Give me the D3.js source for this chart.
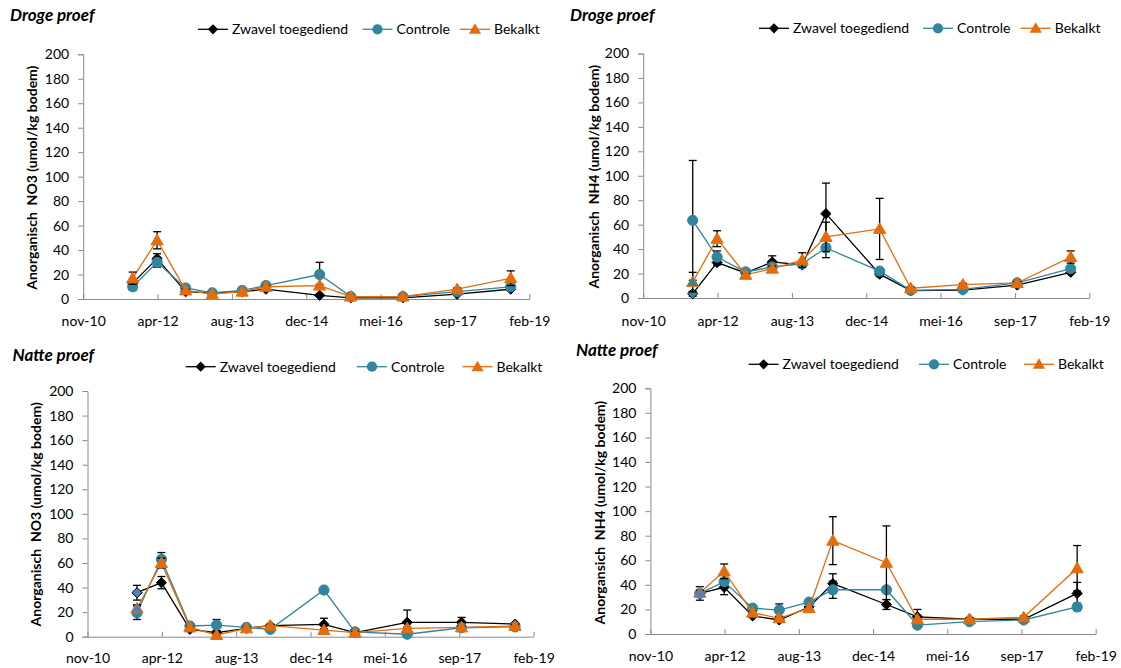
<!DOCTYPE html>
<html><head><meta charset="utf-8">
<script src="https://cdn.jsdelivr.net/npm/d3@7"></script>
<style>
html,body{margin:0;padding:0;background:#fff;}
svg text{font-family:Lato,"Liberation Sans",sans-serif;white-space:pre;}
</style></head>
<body><svg id="c" width="1121" height="668"></svg>
<script>
// ---------- DATA ----------
const sampleDates = ["2011-10-17","2012-03-29","2012-10-07","2013-04-04","2013-10-22","2014-03-31","2015-03-27","2015-10-22","2016-10-07","2017-10-07","2018-10-02"];
const seriesNames = ["Zwavel toegediend","Controle","Bekalkt"];
const tickDates = ["2010-11-18","2012-04-01","2013-08-14","2014-12-27","2016-05-10","2017-09-22","2019-02-04"];
const tickLabels = ["nov-10","apr-12","aug-13","dec-14","mei-16","sep-17","feb-19"];
const yTicks = [0,20,40,60,80,100,120,140,160,180,200];
const panelTitles = ["Droge proef","Droge proef","Natte proef","Natte proef"];
const yTitles = ["Anorganisch  NO3 (umol/kg bodem)","Anorganisch  NH4 (umol/kg bodem)","Anorganisch  NO3 (umol/kg bodem)","Anorgansich  NH4 (umol/kg bodem)"];

// Droge proef NO3
const drogeNO3Zwavel   = [13, 33, 6, 5, 6, 8, 3, 1, 1, 4, 8];
const drogeNO3Controle = [10, 30, 9, 5, 7, 11, 20, 2, 2, 6, 10];
const drogeNO3Bekalkt  = [17, 48, 7, 4, 6, 10, 11, 2, 2, 8, 17];
const drogeNO3ZwavelErr   = [2, 4, 1, 0, 0, 1, 1, 0, 0, 0, 1];
const drogeNO3ControleErr = [3, 4, 1, 0, 0, 1, 10, 0, 0, 0, 1];
const drogeNO3BekalktErr  = [5, 7, 1, 0, 0, 1, 1, 0, 0, 1, 6];
// Droge proef NH4
const drogeNH4Zwavel   = [3.5, 29, 20.5, 29.5, 27, 69, 19.5, 6, 6.5, 10.5, 21];
const drogeNH4Controle = [63.5, 33.5, 21.3, 25.4, 28, 41, 22, 6.3, 7, 12.3, 24];
const drogeNH4Bekalkt  = [13, 48.5, 19, 24, 31, 50, 56.5, 8, 11, 12.3, 33.5];
const drogeNH4ZwavelErr   = [2, 2, 1, 5, 2, 25, 2, 1, 1, 1, 1];
const drogeNH4ControleErr = [49, 5, 1, 2, 2, 8, 2, 1, 1, 1, 2];
const drogeNH4BekalktErr  = [8, 6.5, 1, 2, 6, 12, 25, 1, 1, 1, 5];
// Natte proef NO3
const natteNO3Zwavel   = [35.8, 44, 6, 3.3, 6.8, 9, 10, 3.3, 11.7, 11.7, 10.3];
const natteNO3Controle = [19.5, 63, 8.7, 9.5, 7.6, 6, 38, 4, 2, 7.3, 8];
const natteNO3Bekalkt  = [23, 60, 7.6, 1.4, 6.8, 9, 5.4, 3.3, 6.8, 7.6, 8.7];
const natteNO3ZwavelErr   = [6, 5, 1, 1, 1, 1, 5, 1, 10, 4, 1];
const natteNO3ControleErr = [5.5, 5.5, 1, 4.5, 1, 1, 1, 1, 1, 1, 1];
const natteNO3BekalktErr  = [3, 4, 1, 1, 1, 1, 1, 1, 1, 1, 1];
// Natte proef NH4
const natteNH4Zwavel   = [33, 38, 14.7, 11.4, 22, 41, 24, 14, 12, 12, 33];
const natteNH4Controle = [33, 42.6, 21, 19.5, 26, 36, 36, 7.3, 10, 11.4, 22];
const natteNH4Bekalkt  = [33.6, 51, 17.4, 12.8, 21, 76, 58, 12, 12, 13.6, 53.5];
const natteNH4ZwavelErr   = [5.5, 6, 1, 1, 1, 8, 4, 6, 1, 1, 9];
const natteNH4ControleErr = [2, 2, 1, 5, 1, 7, 1, 1, 1, 1, 3];
const natteNH4BekalktErr  = [2, 6, 1, 1, 1, 19.5, 30, 1, 1, 1, 18.5];

// ---------- STYLE / LAYOUT ----------
const colors = ["#000000","#31859C","#E46C0A"];
const diamondSq = { draw(ctx, size){ const r = Math.sqrt(size/2); ctx.moveTo(0,-r); ctx.lineTo(r,0); ctx.lineTo(0,r); ctx.lineTo(-r,0); ctx.closePath(); } };
const shapes = [diamondSq, d3.symbolCircle, d3.symbolTriangle];
const symSizes = [52, 82, 64];
const layouts = [
  {left:83.2, right:529.3, top:54.3, bottom:299, titleX:10, titleY:21, legY:29.3, legX:[198,362.5,460], yTitleX:32, yTitleOff:1, xLabY:326, firstFill:{}},
  {left:643.2, right:1089.3, top:53.5, bottom:298, titleX:570, titleY:21, legY:28.3, legX:[759,923,1020.7], yTitleX:594, yTitleOff:1, xLabY:326, firstFill:{0:"#31859C",2:"#31859C"}},
  {left:87.5, right:533.6, top:391, bottom:636.7, titleX:12.5, titleY:361, legY:366.7, legX:[185.7,357,462.5], yTitleX:35.7, yTitleOff:0.5, xLabY:663, firstFill:{0:"#4F81BD",2:"#4F81BD"}},
  {left:650.4, right:1095.7, top:388.3, bottom:634, titleX:576, titleY:356, legY:364.3, legX:[748.6,919,1024], yTitleX:600.4, yTitleOff:1.5, xLabY:660.5, firstFill:{2:"#4F81BD"}}
];
const panelSeries = [
  [[drogeNO3Zwavel,drogeNO3ZwavelErr],[drogeNO3Controle,drogeNO3ControleErr],[drogeNO3Bekalkt,drogeNO3BekalktErr]],
  [[drogeNH4Zwavel,drogeNH4ZwavelErr],[drogeNH4Controle,drogeNH4ControleErr],[drogeNH4Bekalkt,drogeNH4BekalktErr]],
  [[natteNO3Zwavel,natteNO3ZwavelErr],[natteNO3Controle,natteNO3ControleErr],[natteNO3Bekalkt,natteNO3BekalktErr]],
  [[natteNH4Zwavel,natteNH4ZwavelErr],[natteNH4Controle,natteNH4ControleErr],[natteNH4Bekalkt,natteNH4BekalktErr]]
];

const parse = d3.utcParse("%Y-%m-%d");
const dates = sampleDates.map(parse);
const tDates = tickDates.map(parse);
const svg = d3.select("#c");
const axisColor = "#8C8C8C";

function sym(i){ return d3.symbol().type(shapes[i]).size(symSizes[i]); }

layouts.forEach((L, p) => {
  const g = svg.append("g");
  const x = d3.scaleUtc().domain([tDates[0], tDates[tDates.length-1]]).range([L.left, L.right]);
  const y = d3.scaleLinear().domain([0,200]).range([L.bottom, L.top]);

  // y axis
  const ya = g.append("g").attr("transform", `translate(${L.left},0)`)
    .call(d3.axisLeft(y).tickValues(yTicks).tickSize(5).tickPadding(9));
  ya.select(".domain").attr("stroke", axisColor);
  ya.selectAll(".tick line").attr("stroke", axisColor);
  ya.selectAll(".tick text").attr("font-size", 14).attr("fill", "#000").style("font-family","Lato");

  // x axis (ticks inside)
  const xa = g.append("g").attr("transform", `translate(0,${L.bottom})`)
    .call(d3.axisBottom(x).tickValues(tDates).tickFormat((d,i)=>tickLabels[i]).tickSize(-5).tickSizeOuter(0).tickPadding(0));
  xa.select(".domain").attr("stroke", axisColor);
  xa.selectAll(".tick line").attr("stroke", axisColor);
  xa.selectAll(".tick text").attr("font-size", 14).attr("fill", "#000").style("font-family","Lato")
    .attr("y", L.xLabY - L.bottom).attr("dy", 0);

  // titles
  g.append("text").attr("x", L.titleX).attr("y", L.titleY).text(panelTitles[p])
    .attr("font-size", 17).attr("font-weight", "bold").attr("font-style", "italic");
  g.append("text").attr("transform", `translate(${L.yTitleX},${(L.top+L.bottom)/2+L.yTitleOff}) rotate(-90)`)
    .attr("text-anchor","middle").attr("dy","0.35em").attr("font-size", 14).attr("font-weight","bold")
    .text(yTitles[p]);

  // series
  panelSeries[p].forEach((s, si) => {
    const vals = s[0], errs = s[1];
    const pts = dates.map((d,i)=>({x:x(d), v:vals[i], e:errs[i], i}));
    g.append("path").datum(pts).attr("fill","none").attr("stroke", colors[si]).attr("stroke-width", 1.3)
      .attr("d", d3.line().x(d=>d.x).y(d=>y(d.v)));
    const eb = g.append("g").attr("stroke","#000").attr("stroke-width",1.3);
    pts.filter(d=>d.e>0).forEach(d=>{
      eb.append("line").attr("x1",d.x).attr("x2",d.x).attr("y1",y(d.v-d.e)).attr("y2",y(d.v+d.e));
      eb.append("line").attr("x1",d.x-4).attr("x2",d.x+4).attr("y1",y(d.v+d.e)).attr("y2",y(d.v+d.e));
      eb.append("line").attr("x1",d.x-4).attr("x2",d.x+4).attr("y1",y(d.v-d.e)).attr("y2",y(d.v-d.e));
    });
    g.append("g").selectAll("path").data(pts).join("path")
      .attr("transform", d=>`translate(${d.x},${y(d.v) + (si===2?1:0)})`)
      .attr("d", sym(si)())
      .attr("fill", d => (d.i===0 && L.firstFill[si]) ? L.firstFill[si] : colors[si])
      .attr("stroke", colors[si]).attr("stroke-width", 1);
  });

  // legend
  seriesNames.forEach((name, si) => {
    const lx = L.legX[si];
    g.append("line").attr("x1", lx).attr("x2", lx+30).attr("y1", L.legY).attr("y2", L.legY)
      .attr("stroke", colors[si]).attr("stroke-width", 1.3);
    g.append("path").attr("transform", `translate(${lx+15},${L.legY + (si===2?1:0)})`).attr("d", sym(si)())
      .attr("fill", colors[si]);
    g.append("text").attr("x", lx+34).attr("y", L.legY).attr("dy","0.35em").attr("font-size", 14).text(name);
  });
});
</script></body></html>
